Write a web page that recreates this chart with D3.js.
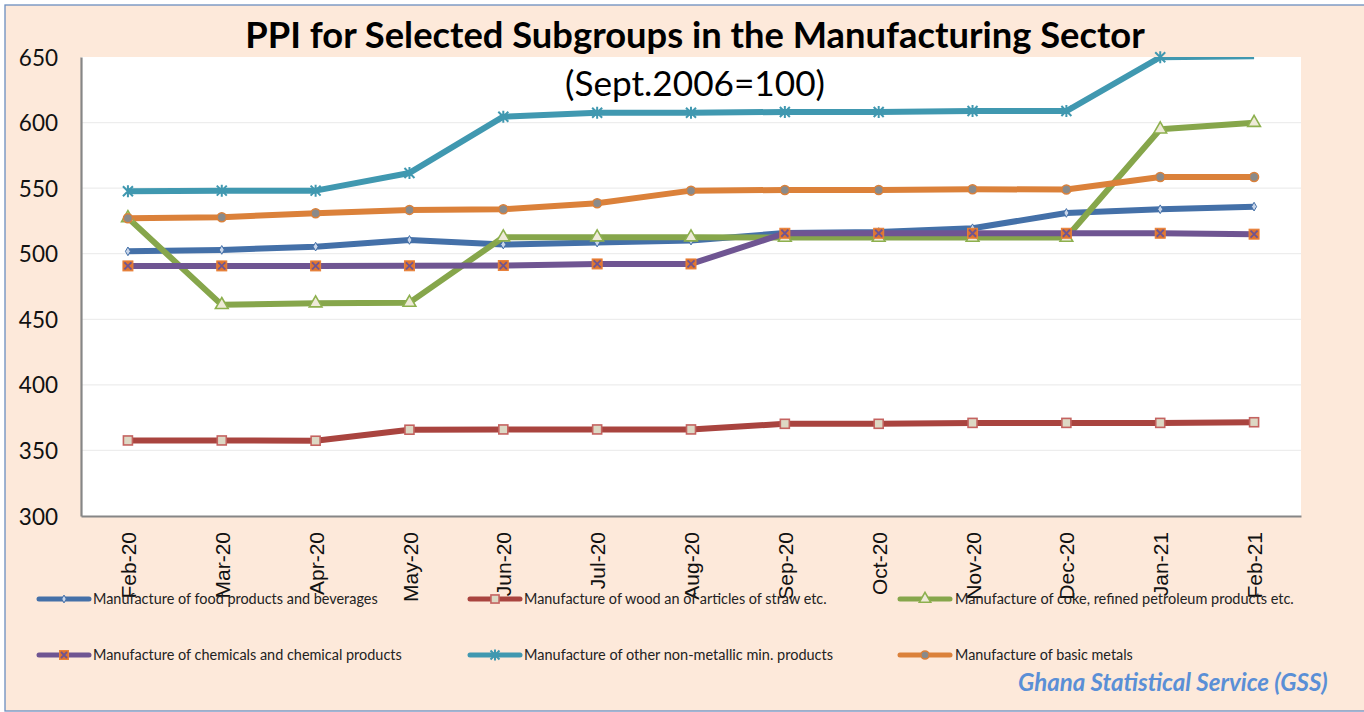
<!DOCTYPE html>
<html><head><meta charset="utf-8">
<script src="https://cdn.jsdelivr.net/npm/d3@7"></script>
<style>html,body{margin:0;padding:0;background:#fff;}svg{display:block;}</style>
</head><body>
<svg id="chart" width="1364" height="712"></svg>
<script>
const months = ["Feb-20","Mar-20","Apr-20","May-20","Jun-20","Jul-20","Aug-20","Sep-20","Oct-20","Nov-20","Dec-20","Jan-21","Feb-21"];
const yTicks = [300,350,400,450,500,550,600,650];
const foodValues = [501.8,502.9,505.4,510.5,507.0,508.5,510.0,515.8,516.5,519.4,531.1,533.9,535.9];
const woodValues = [357.6,357.6,357.4,365.8,366.0,366.0,366.0,370.3,370.3,371.0,371.0,371.0,371.5];
const cokeValues = [527.3,461.0,462.3,462.7,512.6,512.6,512.6,512.3,512.3,512.3,512.3,594.9,599.9];
const chemValues = [490.7,490.7,490.7,490.8,491.0,492.2,492.2,515.6,515.6,515.6,515.6,515.6,514.9];
const nonMetValues = [547.6,548.1,548.1,561.6,604.5,607.5,607.5,608.1,608.1,608.8,608.8,649.8,650.6];
const metalValues = [527.0,527.8,530.9,533.4,533.9,538.5,548.1,548.6,548.6,549.2,548.9,558.5,558.5];
const seriesNames = [
  "Manufacture of food products and beverages",
  "Manufacture of wood an of articles of straw etc.",
  "Manufacture of coke, refined petroleum products etc.",
  "Manufacture of chemicals and chemical products",
  "Manufacture of other non-metallic min. products",
  "Manufacture of basic metals"
];
const titleText = "PPI for Selected Subgroups in the Manufacturing Sector";
const subtitleText = "(Sept.2006=100)";
const sourceText = "Ghana Statistical Service (GSS)";

const series = [
  {name:seriesNames[0], values:foodValues, color:"#4470A8", marker:"diamond"},
  {name:seriesNames[1], values:woodValues, color:"#A9443F", marker:"square"},
  {name:seriesNames[2], values:cokeValues, color:"#86A64B", marker:"triangle"},
  {name:seriesNames[3], values:chemValues, color:"#6F5592", marker:"xsquare"},
  {name:seriesNames[4], values:nonMetValues, color:"#4098B0", marker:"star"},
  {name:seriesNames[5], values:metalValues, color:"#DB813A", marker:"circle"}
];
// draw order (back to front) roughly as in Excel: by series order
const svg = d3.select("#chart");
const W=1364,H=712;
const plot = {l:81, t:57, r:1301, b:516};

svg.append("rect").attr("x",5).attr("y",5).attr("width",W).attr("height",706)
  .attr("fill","#FDE9DA").attr("stroke","#6C8EBF").attr("stroke-width",1.3);

svg.append("rect").attr("x",plot.l).attr("y",plot.t).attr("width",plot.r-plot.l).attr("height",plot.b-plot.t).attr("fill","#fff");

const x = d3.scalePoint().domain(months).range([plot.l,plot.r]).padding(0.5);
const y = d3.scaleLinear().domain([300,650]).range([plot.b,plot.t]);

// gridlines
svg.append("g").selectAll("line").data(yTicks.filter(d=>d>300&&d<650)).join("line")
  .attr("x1",plot.l).attr("x2",plot.r).attr("y1",d=>y(d)).attr("y2",d=>y(d))
  .attr("stroke","#EDEDED").attr("stroke-width",1.3);

// axes
const yAxis = svg.append("g").attr("transform",`translate(${plot.l},0)`)
  .call(d3.axisLeft(y).tickValues(yTicks).tickSize(0).tickPadding(23));
yAxis.select(".domain").attr("stroke","#868686").attr("stroke-width",2.2);
yAxis.selectAll("text").attr("font-family","Lato, 'Open Sans', sans-serif").attr("font-size",22.5).attr("fill","#111").attr("dy","0.36em");

const xAxis = svg.append("g").attr("transform",`translate(0,${plot.b})`)
  .call(d3.axisBottom(x).tickSize(0));
xAxis.select(".domain").attr("stroke","#868686").attr("stroke-width",2.2);
xAxis.selectAll("text").attr("font-family","'Liberation Sans', Arial, sans-serif").attr("font-size",21).attr("fill","#111")
  .attr("transform","rotate(-90)").attr("text-anchor","end").attr("x",-16).attr("y",0).attr("dy","0.36em");

// clip
svg.append("clipPath").attr("id","pc").append("rect").attr("x",plot.l).attr("y",plot.t).attr("width",plot.r-plot.l).attr("height",plot.b-plot.t);

function drawMarker(g, type, color, cx, cy, scale){
  const s = scale||1;
  if(type==="diamond"){
    g.append("path").attr("d",d3.symbol(d3.symbolDiamond, 22*s*s)()).attr("transform",`translate(${cx},${cy})`)
      .attr("fill","#C9D6EA").attr("stroke",color).attr("stroke-width",1);
  } else if(type==="square"){
    g.append("rect").attr("x",cx-4.5*s).attr("y",cy-4.5*s).attr("width",9*s).attr("height",9*s)
      .attr("fill","#DDD8C4").attr("stroke","#C46360").attr("stroke-width",1.6);
  } else if(type==="triangle"){
    g.append("path").attr("d",d3.symbol(d3.symbolTriangle, 70*s*s)()).attr("transform",`translate(${cx},${cy})`)
      .attr("fill","#EEEAD8").attr("stroke","#8DB04E").attr("stroke-width",1.6);
  } else if(type==="xsquare"){
    const h=5*s;
    g.append("rect").attr("x",cx-h).attr("y",cy-h).attr("width",2*h).attr("height",2*h)
      .attr("fill","#E0752F").attr("stroke","#E8813A").attr("stroke-width",1);
    g.append("path").attr("d",`M${cx-h+1.5},${cy-h+1.5}L${cx+h-1.5},${cy+h-1.5}M${cx+h-1.5},${cy-h+1.5}L${cx-h+1.5},${cy+h-1.5}`)
      .attr("stroke","#6F5592").attr("stroke-width",1.8);
  } else if(type==="star"){
    const h=5*s;
    g.append("path").attr("d",`M${cx-h},${cy-h}L${cx+h},${cy+h}M${cx+h},${cy-h}L${cx-h},${cy+h}M${cx},${cy-h-1}L${cx},${cy+h+1}`)
      .attr("stroke",color).attr("stroke-width",2);
  } else if(type==="circle"){
    g.append("circle").attr("cx",cx).attr("cy",cy).attr("r",4.5*s)
      .attr("fill","#8A8A8A").attr("stroke",color).attr("stroke-width",1.5);
  }
}

const line = d3.line().x((d,i)=>x(months[i])).y(d=>y(d));
const linesG = svg.append("g").attr("clip-path","url(#pc)");
const markG = svg.append("g");
series.forEach(s=>{
  linesG.append("path").datum(s.values).attr("d",line).attr("fill","none")
    .attr("stroke",s.color).attr("stroke-width",6).attr("stroke-linejoin","round");
});
series.forEach(s=>{
  s.values.forEach((v,i)=>{ if(v<=650) drawMarker(markG, s.marker, s.color, x(months[i]), y(v), 1); });
});

// fit text helper
function fit(sel, width, maxSize){
  let size = maxSize;
  sel.attr("font-size",size);
  const w = sel.node().getComputedTextLength();
  size = size*width/w;
  sel.attr("font-size",size);
}

// title
const t = svg.append("text").attr("x",695).attr("y",48).attr("text-anchor","middle")
  .attr("font-family","Lato, 'Open Sans', sans-serif").attr("font-weight","bold").attr("fill","#000").text(titleText);
fit(t, 900, 34);
const st = svg.append("text").attr("x",695).attr("y",96).attr("text-anchor","middle")
  .attr("font-family","Lato, 'Open Sans', sans-serif").attr("fill","#000").text(subtitleText);
fit(st, 260, 30);

// legend
const legPos = [
  {lx:39, tx:93, y:599, w:285},
  {lx:470, tx:524, y:599, w:303},
  {lx:900, tx:955, y:599, w:339},
  {lx:39, tx:93, y:655, w:309},
  {lx:470, tx:524, y:655, w:309},
  {lx:900, tx:955, y:655, w:178}
];
const legG = svg.append("g");
series.forEach((s,i)=>{
  const p = legPos[i];
  legG.append("line").attr("x1",p.lx).attr("x2",p.lx+50).attr("y1",p.y).attr("y2",p.y)
    .attr("stroke",s.color).attr("stroke-width",5).attr("stroke-linecap","round");
  drawMarker(legG, s.marker, s.color, p.lx+25, p.y, 0.9);
  const tt = legG.append("text").attr("x",p.tx).attr("y",p.y).attr("dy","0.35em")
    .attr("font-family","Lato, 'Open Sans', sans-serif").attr("fill","#222").text(s.name);
  fit(tt, p.w, 14);
});

// source
const src = svg.append("text").attr("x",1018).attr("y",691)
  .attr("font-family","Lato, 'Open Sans', sans-serif").attr("font-weight","bold").attr("font-style","italic")
  .attr("fill","#5A8FD6").text(sourceText);
fit(src, 310, 20);
</script>
</body></html>
